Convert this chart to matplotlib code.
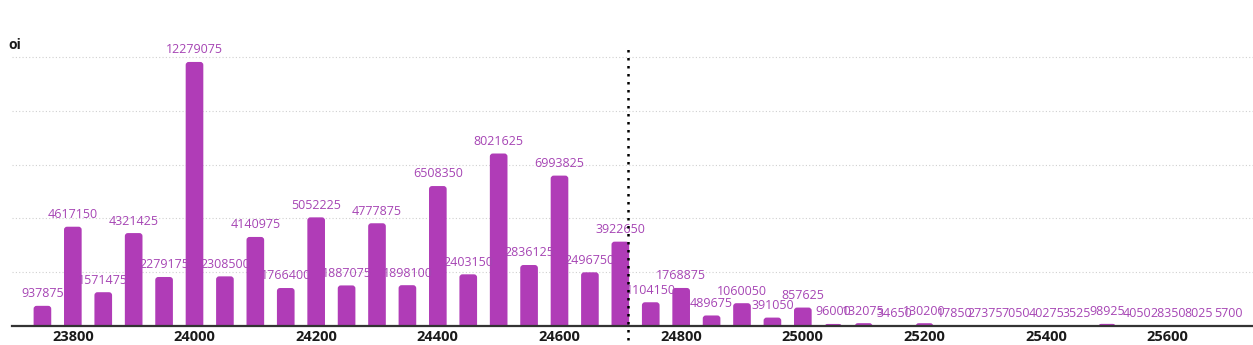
import matplotlib
matplotlib.use("Agg")
import matplotlib.pyplot as plt
import matplotlib.transforms as mtransforms
from matplotlib.patches import FancyBboxPatch
import numpy as np

# strikes and open interest
strikes = np.arange(23750, 25701, 50)
oi = [937875, 4617150, 1571475, 4321425, 2279175, 12279075, 2308500, 4140975,
      1766400, 5052225, 1887075, 4777875, 1898100, 6508350, 2403150, 8021625,
      2836125, 6993825, 2496750, 3922650, 1104150, 1768875, 489675, 1060050,
      391050, 857625, 96000, 132075, 34650, 130200, 17850, 27375,
      7050, 40275, 3525, 98925, 4050, 28350, 8025, 5700]
spot = 24713
xticks = [23800, 24000, 24200, 24400, 24600, 24800, 25000, 25200, 25400, 25600]

bar_color = "#b03cb7"
label_color = "#a645b4"

plt.rcParams["font.family"] = ["Open Sans", "DejaVu Sans"]

fig = plt.figure(figsize=(12.53, 3.45), dpi=100)
ax = fig.add_axes([12 / 1253, 19 / 345, 1 - 12 / 1253, 286 / 345])

ax.set_xlim(23700, 25740)
ax.set_ylim(0, 13.3e6)

# bars with rounded tops (the bottom corners go below zero and get clipped)
width = 29
r_x = 5
r_y = 140000
for s, v in zip(strikes, oi):
    p = FancyBboxPatch((s - width / 2, -r_y), width, v + r_y,
                       boxstyle=f"round,pad=0,rounding_size={r_x}",
                       mutation_aspect=r_y / r_x,
                       facecolor=bar_color, edgecolor="none", zorder=3)
    ax.add_patch(p)
    ax.annotate(str(v), (s, v), xytext=(0, 4), textcoords="offset points",
                ha="center", va="bottom", fontsize=9, color=label_color,
                zorder=4)

# grid
for g in [2.5e6, 5e6, 7.5e6, 10e6, 12.5e6]:
    ax.axhline(g, color="#d0d0d0", lw=0.8, ls=(0, (1, 2)), zorder=1)

# spot line
trans = mtransforms.blended_transform_factory(ax.transData, ax.transAxes)
ax.plot([spot, spot], [-0.05, 0.97], transform=trans, color="black",
        lw=1.8, ls=(0, (1, 2.2)), clip_on=False, zorder=5)

for side in ["top", "right", "left"]:
    ax.spines[side].set_visible(False)
ax.spines["bottom"].set_color("#333333")
ax.spines["bottom"].set_linewidth(1.6)
ax.spines["bottom"].set_zorder(6)

ax.set_yticks([])
ax.set_xticks(xticks)
ax.set_xticklabels([str(t) for t in xticks], fontsize=10.5, fontweight="bold",
                   color="#1a1a1a")
ax.tick_params(axis="x", length=0, pad=3)

fig.text(8 / 1253, 1 - 45 / 345, "oi", fontsize=10, fontweight="bold",
         color="#1a1a1a", va="center", ha="left")

fig.savefig("out.png", dpi=100)
